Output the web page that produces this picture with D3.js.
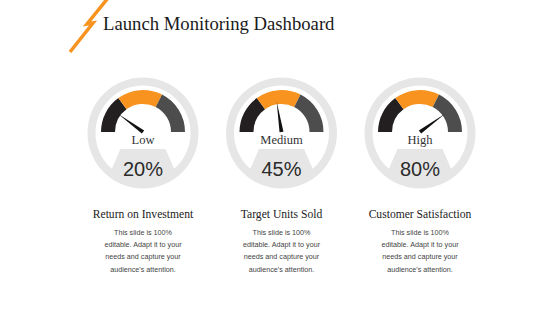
<!DOCTYPE html>
<html>
<head>
<meta charset="utf-8">
<script src="https://cdn.jsdelivr.net/npm/d3@7"></script>
<style>
  html, body { margin: 0; padding: 0; background: #fff; }
  svg { display: block; }
</style>
</head>
<body>
<svg id="chart" width="560" height="315"></svg>
<script>
// chart data
const title = 'Launch Monitoring Dashboard';
const levels = ['Low', 'Medium', 'High'];
const values = [20, 45, 80];
const metrics = ['Return on Investment', 'Target Units Sold', 'Customer Satisfaction'];
const bodyLines = ['This slide is 100%', 'editable. Adapt it to your', 'needs and capture your', "audience's attention."];
// gauge colour bands, in percent of the scale
const bandStops = [0, 30, 65, 100];
const bandColors = ['#231f20', '#f7931e', '#4d4d4d'];

const width = 560;
const height = 315;
const cy = 132;

const svg = d3.select('#chart');

// orange slash next to the title
svg.append('polyline')
  .attr('points', '108,-2 87,24 93,23 70,52')
  .attr('fill', 'none')
  .attr('stroke', '#f7931e')
  .attr('stroke-width', 3.5)
  .attr('stroke-linejoin', 'miter');

svg.append('text')
  .attr('x', 103)
  .attr('y', 30)
  .attr('font-family', '"Liberation Serif", "Times New Roman", serif')
  .attr('font-size', 18.7)
  .attr('fill', '#1a1a1a')
  .text(title);

const x = d3.scalePoint().domain(levels).range([143, 420]);
const angle = d3.scaleLinear().domain([0, 100]).range([-Math.PI / 2, Math.PI / 2]);

const bands = bandColors.map((c, i) => ({ from: bandStops[i], to: bandStops[i + 1], color: c }));
const bandArc = d3.arc().innerRadius(28).outerRadius(42);
const ring = d3.arc().innerRadius(47.5).outerRadius(55.5).startAngle(0).endAngle(2 * Math.PI);

const defs = svg.append('defs');

levels.forEach((lvl, i) => {
  // trapezoid tab at the bottom, clipped to the ring
  const clipId = 'clip' + i;
  defs.append('clipPath').attr('id', clipId)
    .append('circle').attr('cx', x(lvl)).attr('cy', cy + 1).attr('r', 49);
  svg.append('g').attr('clip-path', `url(#${clipId})`)
    .append('path')
    .attr('transform', `translate(${x(lvl)},${cy})`)
    .attr('d', 'M-23,18 Q-23,17 -22,17 L22,17 Q23,17 23,18 L42,62 L-42,62 Z')
    .attr('fill', '#e6e6e6');

  const g = svg.append('g').attr('transform', `translate(${x(lvl)},${cy})`);

  g.append('path')
    .attr('d', ring())
    .attr('transform', 'translate(0,1)')
    .attr('fill', '#e6e6e6');

  g.selectAll('path.band')
    .data(bands)
    .enter()
    .append('path')
    .attr('class', 'band')
    .attr('d', d => bandArc({ startAngle: angle(d.from), endAngle: angle(d.to) }))
    .attr('fill', d => d.color);

  // needle
  const a = angle(values[i]);
  const len = 31, hw = 2;
  const tip = [Math.sin(a) * len, -Math.cos(a) * len];
  const b1 = [Math.cos(a) * hw, Math.sin(a) * hw];
  const b2 = [-Math.cos(a) * hw, -Math.sin(a) * hw];
  g.append('path')
    .attr('d', d3.line()([b1, tip, b2]) + 'Z')
    .attr('fill', '#111');

  g.append('text')
    .attr('x', 0)
    .attr('y', 11.5)
    .attr('text-anchor', 'middle')
    .attr('font-family', '"Liberation Serif", "Times New Roman", serif')
    .attr('font-size', 12.5)
    .attr('fill', '#333')
    .text(lvl);

  g.append('text')
    .attr('x', 0)
    .attr('y', 43.5)
    .attr('text-anchor', 'middle')
    .attr('font-family', '"Liberation Sans", Arial, sans-serif')
    .attr('font-size', 20)
    .attr('fill', '#2b2b2b')
    .text(values[i] + '%');

  svg.append('text')
    .attr('x', x(lvl))
    .attr('y', 218)
    .attr('text-anchor', 'middle')
    .attr('font-family', '"Liberation Serif", "Times New Roman", serif')
    .attr('font-size', 11.6)
    .attr('fill', '#222')
    .text(metrics[i]);

  svg.append('g')
    .selectAll('text')
    .data(bodyLines)
    .enter()
    .append('text')
    .attr('x', x(lvl))
    .attr('y', (d, j) => 234.5 + j * 12.4)
    .attr('text-anchor', 'middle')
    .attr('font-family', '"Liberation Sans", Arial, sans-serif')
    .attr('font-size', 7.2)
    .attr('fill', '#444')
    .text(d => d);
});
</script>
</body>
</html>
